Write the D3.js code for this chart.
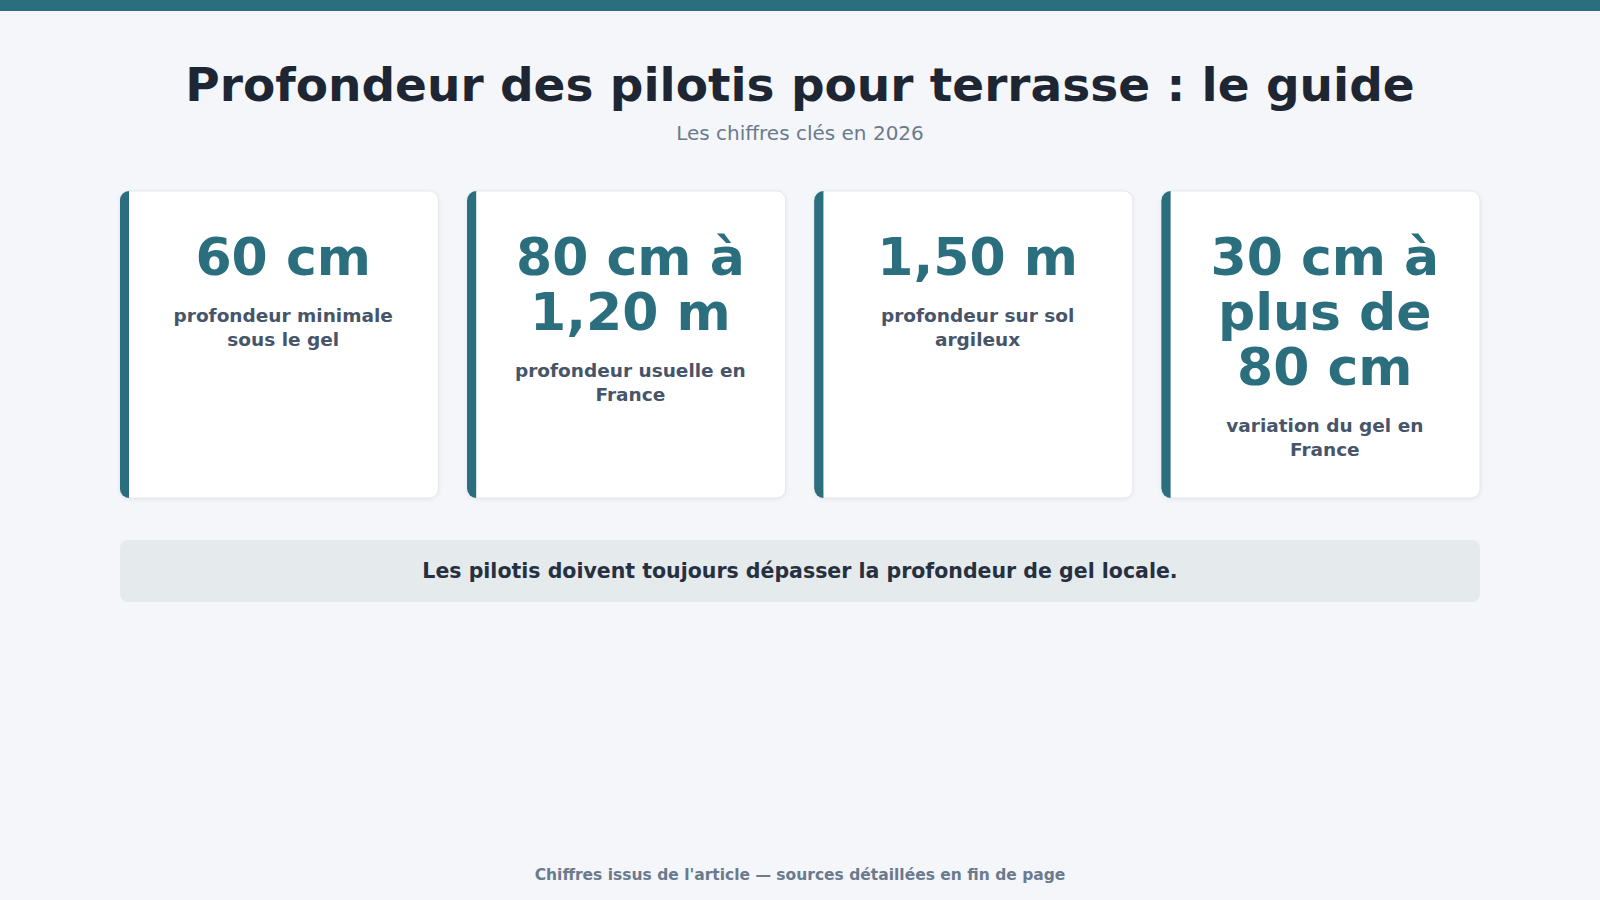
<!DOCTYPE html>
<html><head><meta charset="utf-8">
<script src="https://cdn.jsdelivr.net/npm/d3@7"></script>
<style>body{margin:0;background:#f4f6f9;}svg{display:block;font-family:"DejaVu Sans",sans-serif;}</style>
</head><body><svg id="c" width="1600" height="900"></svg>
<script>
const title = "Profondeur des pilotis pour terrasse : le guide";
const subtitle = "Les chiffres clés en 2026";
const values = ["60 cm", "80 cm à 1,20 m", "1,50 m", "30 cm à plus de 80 cm"];
const labels = ["profondeur minimale sous le gel", "profondeur usuelle en France", "profondeur sur sol argileux", "variation du gel en France"];
const banner = "Les pilotis doivent toujours dépasser la profondeur de gel locale.";
const footer = "Chiffres issus de l'article — sources détaillées en fin de page";

const svg = d3.select("#c");
const teal = "#2b6e7e";
svg.append("rect").attr("width",1600).attr("height",11).attr("fill",teal);
svg.append("text").attr("x",800).attr("y",101).attr("text-anchor","middle")
  .attr("font-size",47).attr("font-weight","bold").attr("fill","#1e2633").text(title);
svg.append("text").attr("x",800).attr("y",140).attr("text-anchor","middle")
  .attr("font-size",20).attr("fill","#6b7a8d").text(subtitle);

const x = d3.scaleBand().domain(d3.range(values.length)).range([120,1480]).paddingInner(0.083);
const cardTop = 191, cardH = 307;

function wrap(textSel, width, lh) {
  textSel.each(function(){
    const t = d3.select(this), words = t.text().split(" "), cx = t.attr("x"), y0 = +t.attr("y");
    t.text(null);
    let line = [], n = 0, ts = t.append("tspan").attr("x",cx).attr("y",y0);
    for (const w of words) {
      line.push(w); ts.text(line.join(" "));
      if (ts.node().getComputedTextLength() > width && line.length > 1) {
        line.pop(); ts.text(line.join(" ")); line = [w]; n++;
        ts = t.append("tspan").attr("x",cx).attr("y",y0 + n*lh).text(w);
      }
    }
    t.attr("data-lines", n+1);
  });
}

const g = svg.selectAll("g.card").data(values).join("g").attr("class","card")
  .attr("transform",(d,i)=>`translate(${x(i)},${cardTop})`);
const w = x.bandwidth();
g.append("rect").attr("width",w).attr("height",cardH).attr("rx",9).attr("fill","#fff")
  .attr("stroke","#e3e7ec").style("filter","drop-shadow(0 1px 2px rgba(0,0,0,0.06))");
g.append("path").attr("d",`M9,0 L9,${cardH} A9,9 0 0 1 0,${cardH-9} L0,9 A9,9 0 0 1 9,0Z`).attr("fill",teal);
g.append("rect").attr("x",0).attr("width",8).attr("height",cardH).attr("rx",0).attr("fill",teal).attr("clip-path",null)
  .attr("y",9).attr("height",cardH-18);
g.each(function(d,i){
  const gg = d3.select(this), cx = 4 + w/2;
  const v = gg.append("text").attr("x",cx).attr("y",84).attr("text-anchor","middle")
    .attr("font-size",52).attr("font-weight","bold").attr("fill",teal).text(d);
  wrap(v, 250, 55);
  const n = +v.attr("data-lines");
  const l = gg.append("text").attr("x",cx).attr("y",84 + (n-1)*55 + 47).attr("text-anchor","middle")
    .attr("font-size",18.5).attr("font-weight","bold").attr("fill","#465569").text(labels[i]);
  wrap(l, 250, 24);
});

svg.append("rect").attr("x",120).attr("y",540).attr("width",1360).attr("height",62).attr("rx",8).attr("fill","#e5eaed");
svg.append("text").attr("x",800).attr("y",578).attr("text-anchor","middle")
  .attr("font-size",20.5).attr("font-weight","bold").attr("fill","#263041").text(banner);
svg.append("text").attr("x",800).attr("y",880).attr("text-anchor","middle")
  .attr("font-size",15.5).attr("font-weight","bold").attr("fill","#6b7a8d").text(footer);
</script></body></html>
